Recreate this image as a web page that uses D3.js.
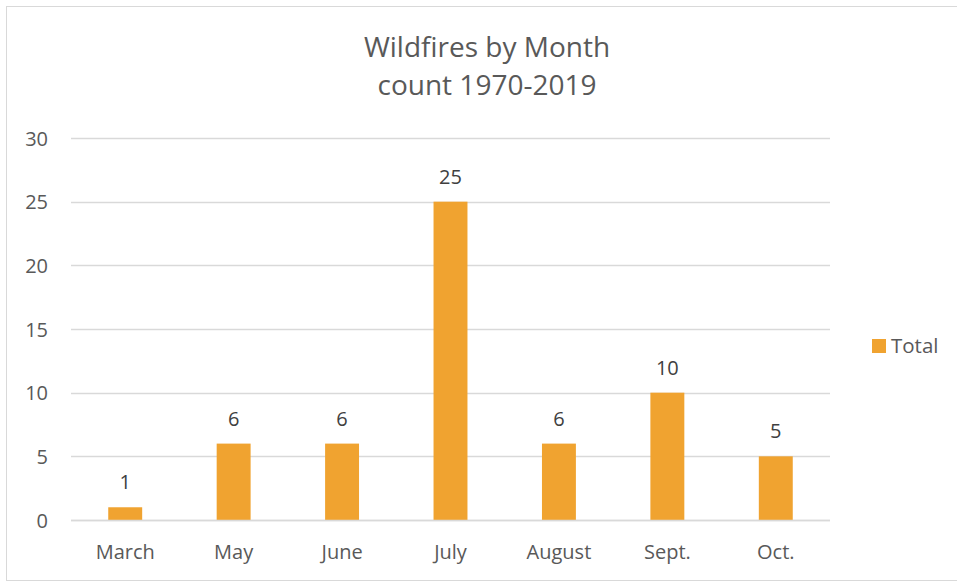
<!DOCTYPE html>
<html>
<head>
<meta charset="utf-8">
<script src="https://cdn.jsdelivr.net/npm/d3@7"></script>
<style>
  html, body { margin: 0; padding: 0; background: #fff; }
  svg { display: block; font-family: "Open Sans", "Noto Sans", sans-serif; }
</style>
</head>
<body>
<svg id="chart" width="957" height="582"></svg>
<script>
// Wildfire counts per month, 1970-2019
const months = ["March", "May", "June", "July", "August", "Sept.", "Oct."];
const totals = [1, 6, 6, 25, 6, 10, 5];
const yTicks = [0, 5, 10, 15, 20, 25, 30];
const titleLines = ["Wildfires by Month", "count 1970-2019"];
const seriesName = "Total";

const svg = d3.select("#chart");
const barColor = "#F0A330";

// chart frame (runs off the right edge)
svg.append("rect")
  .attr("x", 6.5).attr("y", 6.5)
  .attr("width", 960).attr("height", 574)
  .attr("fill", "#fff").attr("stroke", "#d9d9d9").attr("stroke-width", 1);

const plot = { left: 71, right: 830, top: 138, bottom: 520 };

const x = d3.scaleBand()
  .domain(months)
  .range([plot.left, plot.right])
  .paddingInner(0.687)
  .paddingOuter(0.3435);

const y = d3.scaleLinear()
  .domain([0, 30])
  .range([plot.bottom, plot.top]);

// horizontal gridlines
svg.append("g")
  .selectAll("line")
  .data(yTicks)
  .join("line")
  .attr("x1", plot.left).attr("x2", plot.right)
  .attr("y1", d => Math.round(y(d)) + 0.5)
  .attr("y2", d => Math.round(y(d)) + 0.5)
  .attr("stroke", "#d9d9d9").attr("stroke-width", 1.3);

// y axis labels
const yAxis = d3.axisLeft(y).tickValues(yTicks).tickSize(0).tickPadding(0);
const gy = svg.append("g")
  .attr("transform", `translate(48,0)`)
  .call(yAxis);
gy.select(".domain").remove();
gy.selectAll("text")
  .attr("font-size", 20)
  .attr("fill", "#595959")
  .attr("font-family", "\"Open Sans\", sans-serif")
  .attr("dy", "0.35em");

// bars
svg.append("g")
  .selectAll("rect")
  .data(months.map((m, i) => ({ m, v: totals[i] })))
  .join("rect")
  .attr("x", d => x(d.m))
  .attr("width", x.bandwidth())
  .attr("y", d => y(d.v))
  .attr("height", d => y(0) - y(d.v))
  .attr("fill", barColor);

// redraw baseline over bars
svg.append("line")
  .attr("x1", plot.left).attr("x2", plot.right)
  .attr("y1", Math.round(y(0)) + 0.5).attr("y2", Math.round(y(0)) + 0.5)
  .attr("stroke", "#d9d9d9").attr("stroke-width", 1.3);

// value labels
svg.append("g")
  .selectAll("text")
  .data(months.map((m, i) => ({ m, v: totals[i] })))
  .join("text")
  .attr("x", d => x(d.m) + x.bandwidth() / 2)
  .attr("y", d => y(d.v) - 18)
  .attr("text-anchor", "middle")
  .attr("font-size", 20)
  .attr("fill", "#404040")
  .text(d => d.v);

// x axis labels
const xAxis = d3.axisBottom(x).tickSize(0).tickPadding(0);
const gx = svg.append("g")
  .attr("transform", `translate(0,${plot.bottom})`)
  .call(xAxis);
gx.select(".domain").remove();
gx.selectAll("text")
  .attr("font-size", 20)
  .attr("fill", "#595959")
  .attr("font-family", "\"Open Sans\", sans-serif")
  .attr("dy", null)
  .attr("y", 39);

// title
svg.append("g")
  .selectAll("text")
  .data(titleLines)
  .join("text")
  .attr("x", 487)
  .attr("y", (d, i) => 57 + i * 38)
  .attr("text-anchor", "middle")
  .attr("font-size", 28)
  .attr("fill", "#595959")
  .text(d => d);

// legend
const legend = svg.append("g").attr("transform", "translate(872,339)");
legend.append("rect")
  .attr("width", 14).attr("height", 14)
  .attr("fill", barColor);
legend.append("text")
  .attr("x", 19).attr("y", 14)
  .attr("font-size", 20.5)
  .attr("fill", "#595959")
  .text(seriesName);
</script>
</body>
</html>
